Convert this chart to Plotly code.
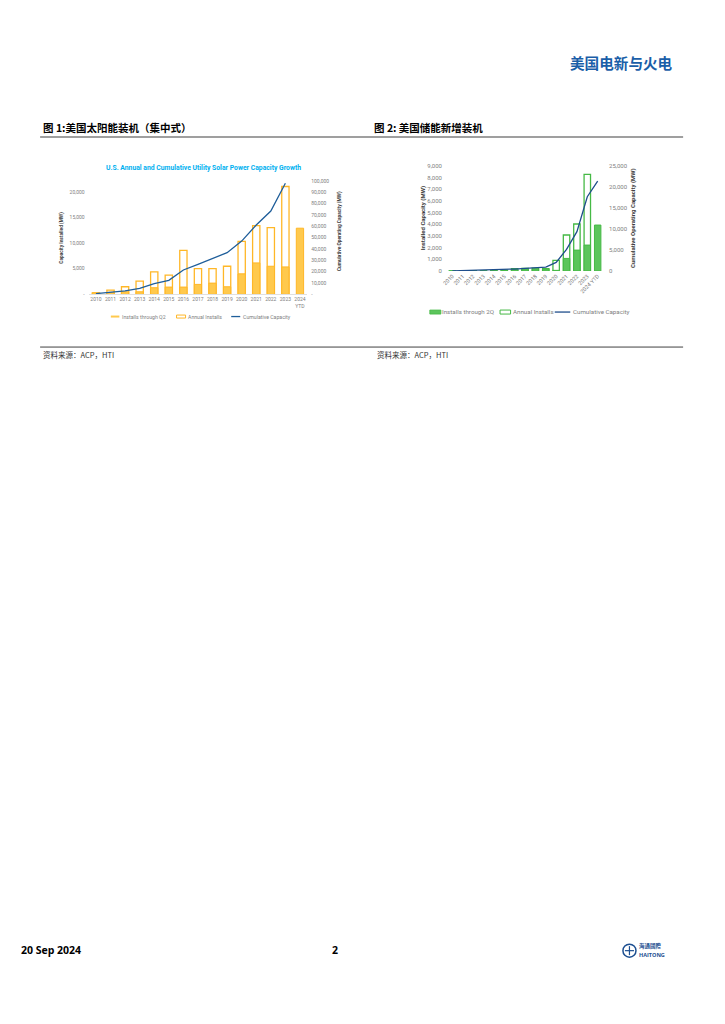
import plotly.graph_objects as go

W, H = 725, 1024
# small empirical correction so that final page pixels land where the reference has them
def px(x): return ((x - 6.0) / 0.99) / W
def py(y): return 1 - ((y - 4.0) / 0.993) / H

# ---------------- Chart 1 data: U.S. utility solar ----------------
years1 = ["2010", "2011", "2012", "2013", "2014", "2015", "2016", "2017", "2018",
          "2019", "2020", "2021", "2022", "2023", "2024<br>YTD"]
solar_annual = [300, 840, 1480, 2580, 4390, 3740, 8580, 5030, 5030, 5480,
                10320, 13420, 13030, 21030, None]
solar_q2 = [300, 400, 500, 500, 1290, 1420, 1420, 1940, 2190, 1480,
            4000, 6130, 5480, 5350, 12900]
solar_cum = [600, 1500, 3000, 5300, 9400, 12400, 21500, 26500, 31800, 36800,
             47000, 61200, 73500, 98000, None]
left1_ticks = [0, 5000, 10000, 15000, 20000]
left1_text = ["-", "5,000", "10,000", "15,000", "20,000"]
right1_ticks = [0, 10000, 20000, 30000, 40000, 50000, 60000, 70000, 80000, 90000, 100000]
right1_text = ["-", "10,000", "20,000", "30,000", "40,000", "50,000", "60,000",
               "70,000", "80,000", "90,000", "100,000"]

# ---------------- Chart 2 data: U.S. storage ----------------
years2 = ["2010", "2011", "2012", "2013", "2014", "2015", "2016", "2017", "2018",
          "2019", "2020", "2021", "2022", "2023", "2024 YTD"]
stor_annual = [10, 5, 30, 20, 40, 70, 200, 230, 250, 200,
               910, 3080, 4020, 8260, None]
stor_2q = [10, 5, 20, 15, 30, 60, 150, 170, 180, 170,
           60, 1080, 1790, 2220, 3930]
stor_cum = [50, 100, 150, 200, 250, 350, 480, 630, 800, 950,
            2050, 5140, 9340, 17640, 21360]
left2_ticks = [0, 1000, 2000, 3000, 4000, 5000, 6000, 7000, 8000, 9000]
right2_ticks = [0, 5000, 10000, 15000, 20000, 25000]

YEL_FILL = "#FFC94D"
YEL_LINE = "#FFB727"
GRN_FILL = "#5CC55C"
GRN_LINE = "#45B945"
BLUE1 = "#1F5E9A"
BLUE2 = "#1F4E8C"
GRAY = "#808080"
FONT = "Roboto"

fig = go.Figure()

# Chart 1 traces
fig.add_trace(go.Bar(x=years1, y=solar_annual, name="Annual Installs", xaxis="x", yaxis="y",
                     marker=dict(color="white", line=dict(color=YEL_LINE, width=1.3)),
                     width=0.5, showlegend=False))
fig.add_trace(go.Bar(x=years1, y=solar_q2, name="Installs through Q2", xaxis="x", yaxis="y",
                     marker=dict(color=YEL_FILL, line=dict(color=YEL_LINE, width=1)),
                     width=0.5, showlegend=False))
fig.add_trace(go.Scatter(x=years1, y=solar_cum, name="Cumulative Capacity", xaxis="x", yaxis="y2",
                         mode="lines", line=dict(color=BLUE1, width=1.3), showlegend=False))

# Chart 2 traces
fig.add_trace(go.Bar(x=years2, y=stor_annual, name="Annual Installs", xaxis="x3", yaxis="y3",
                     marker=dict(color="white", line=dict(color=GRN_LINE, width=1.3)),
                     width=0.62, showlegend=False))
fig.add_trace(go.Bar(x=years2, y=stor_2q, name="Installs through 2Q", xaxis="x3", yaxis="y3",
                     marker=dict(color=GRN_FILL, line=dict(color=GRN_LINE, width=1)),
                     width=0.62, showlegend=False))
fig.add_trace(go.Scatter(x=years2, y=stor_cum, name="Cumulative Capacity", xaxis="x3", yaxis="y4",
                         mode="lines", line=dict(color=BLUE2, width=1.3), showlegend=False))

axfont1 = dict(family=FONT, size=5, color=GRAY)
axfont2 = dict(family=FONT, size=6, color=GRAY)

fig.update_layout(
    width=W, height=H, margin=dict(l=0, r=0, t=0, b=0), autosize=False,
    paper_bgcolor="white", plot_bgcolor="rgba(0,0,0,0)",
    barmode="overlay",
    font=dict(family=FONT, color=GRAY),
    showlegend=False,
    xaxis=dict(domain=[px(89.4), px(307.3)], anchor="y", type="category",
               range=[-0.5, 14.5], showgrid=False, tickfont=axfont1,
               showline=True, linecolor="#e0e0e0", linewidth=0.8, ticks="", tickangle=0),
    yaxis=dict(domain=[py(294.3), py(181)], anchor="x", range=[0, 22100], tickvals=left1_ticks,
               ticktext=left1_text, showgrid=False, zeroline=False, tickfont=axfont1,
               ticks="outside", ticklen=2, tickcolor="rgba(0,0,0,0)", showline=False),
    yaxis2=dict(overlaying="y", side="right", anchor="x", range=[0, 100000],
                tickvals=right1_ticks, ticktext=right1_text, showgrid=False,
                zeroline=False, tickfont=axfont1, ticks="outside", ticklen=2,
                tickcolor="rgba(0,0,0,0)"),
    xaxis3=dict(domain=[px(446.8), px(602)], anchor="y3", type="category",
                range=[-0.5, 14.5], showgrid=False,
                tickfont=dict(family=FONT, size=5.5, color=GRAY),
                tickangle=-45, showline=False, ticks=""),
    yaxis3=dict(domain=[py(271), py(165.7)], anchor="x3", range=[0, 9000], tickvals=left2_ticks,
                tickformat=",d", showgrid=False, zeroline=False, tickfont=axfont2,
                ticks="outside", ticklen=3, tickcolor="rgba(0,0,0,0)"),
    yaxis4=dict(overlaying="y3", side="right", anchor="x3", range=[0, 25000],
                tickvals=right2_ticks, tickformat=",d", showgrid=False, zeroline=False,
                tickfont=axfont2, ticks="outside", ticklen=4, tickcolor="rgba(0,0,0,0)"),
)

ann = []
def text(x, y, s, size, color="#000", bold=False, family=FONT, xanchor="left", angle=0):
    ann.append(dict(x=px(x), y=py(y), xref="paper", yref="paper", text=(f"<b>{s}</b>" if bold else s),
                    showarrow=False, xanchor=xanchor, yanchor="middle", textangle=angle,
                    borderpad=0, font=dict(size=size, color=color, family=family)))

CJK = "Noto Sans CJK SC"
text(673, 62, "美国电新与火电", 14.6, "#1A5EA8", True, CJK, "right")
text(43, 127, "图 1:美国太阳能装机（集中式）", 10.5, "#000", True, CJK)
text(373, 127, "图 2: 美国储能新增装机", 10.5, "#000", True, CJK)
text(43, 354, "资料来源：ACP，HTI", 7.5, "#333", False, CJK)
text(376, 354, "资料来源：ACP，HTI", 7.5, "#333", False, CJK)
text(21, 950, "20 Sep 2024", 10.5, "#000", True, "Open Sans")
text(335, 950, "2", 10.5, "#000", True, "Open Sans", "center")
text(637, 946, "海通國際", 5.5, "#1D4F91", True, CJK)
text(637, 955, "HAITONG", 5.5, "#1D4F91", True, "Open Sans")

# chart titles / axis titles
text(204, 168, "U.S. Annual and Cumulative Utility Solar Power Capacity Growth", 6.8, "#00B0F0", True, FONT, "center")
text(61.5, 238, "Capacity Installed (MW)", 4.8, "#404040", True, FONT, "center", -90)
text(339, 231, "Cumulative Operating Capacity (MW)", 4.8, "#404040", True, FONT, "center", -90)
text(423, 218, "Installed Capacity (MW)", 6, "#404040", True, FONT, "center", -90)
text(632, 218, "Cumulative Operating Capacity (MW)", 6, "#404040", True, FONT, "center", -90)

# legends (manual keys)
text(121.5, 316.5, "Installs through Q2", 5.2, GRAY)
text(187, 316.5, "Annual Installs", 5.2, GRAY)
text(242, 316.5, "Cumulative Capacity", 5.2, GRAY)
text(441, 312, "Installs through 2Q", 6.2, GRAY)
text(511.5, 312, "Annual Installs", 6.2, GRAY)
text(571, 312, "Cumulative Capacity", 6.2, GRAY)

fig.update_layout(annotations=ann)

def rect(x0, x1, y0, y1, fill, line, lw):
    return dict(type="rect", xref="paper", yref="paper", x0=px(x0), x1=px(x1), y0=py(y1), y1=py(y0),
                fillcolor=fill, line=dict(color=line, width=lw))
def hline(x0, x1, y, color, lw):
    return dict(type="line", xref="paper", yref="paper", x0=px(x0), x1=px(x1), y0=py(y), y1=py(y),
                line=dict(color=color, width=lw))

shapes = [
    hline(41, 682, 137, "#7F7F7F", 1.6),
    hline(41, 682, 347, "#404040", 1),
    # legend keys chart 1
    rect(111.5, 120, 315.5, 317.5, YEL_FILL, YEL_FILL, 0),
    rect(177, 186, 315, 318, "white", YEL_LINE, 1),
    hline(231.5, 240.5, 316.5, BLUE1, 1.3),
    # legend keys chart 2
    rect(429.5, 440.5, 310, 314, GRN_FILL, GRN_LINE, 0.8),
    rect(499.5, 510, 310, 314, "white", GRN_LINE, 1),
    hline(554, 569.5, 312, BLUE2, 1.3),
    # logo
    dict(type="circle", xref="paper", yref="paper", x0=px(622), x1=px(635), y0=py(957), y1=py(944),
         line=dict(color="#1D4F91", width=1.5), fillcolor="white"),
    hline(624, 633, 950.5, "#1D4F91", 1.2),
    dict(type="line", xref="paper", yref="paper", x0=px(628.5), x1=px(628.5), y0=py(946), y1=py(955),
         line=dict(color="#1D4F91", width=1.2)),
]
fig.update_layout(shapes=shapes)

fig.write_html("out.html", config={"responsive": False, "displayModeBar": False},
               post_script="document.body.style.margin='0';document.body.style.padding='0';document.documentElement.style.overflow='hidden';")
